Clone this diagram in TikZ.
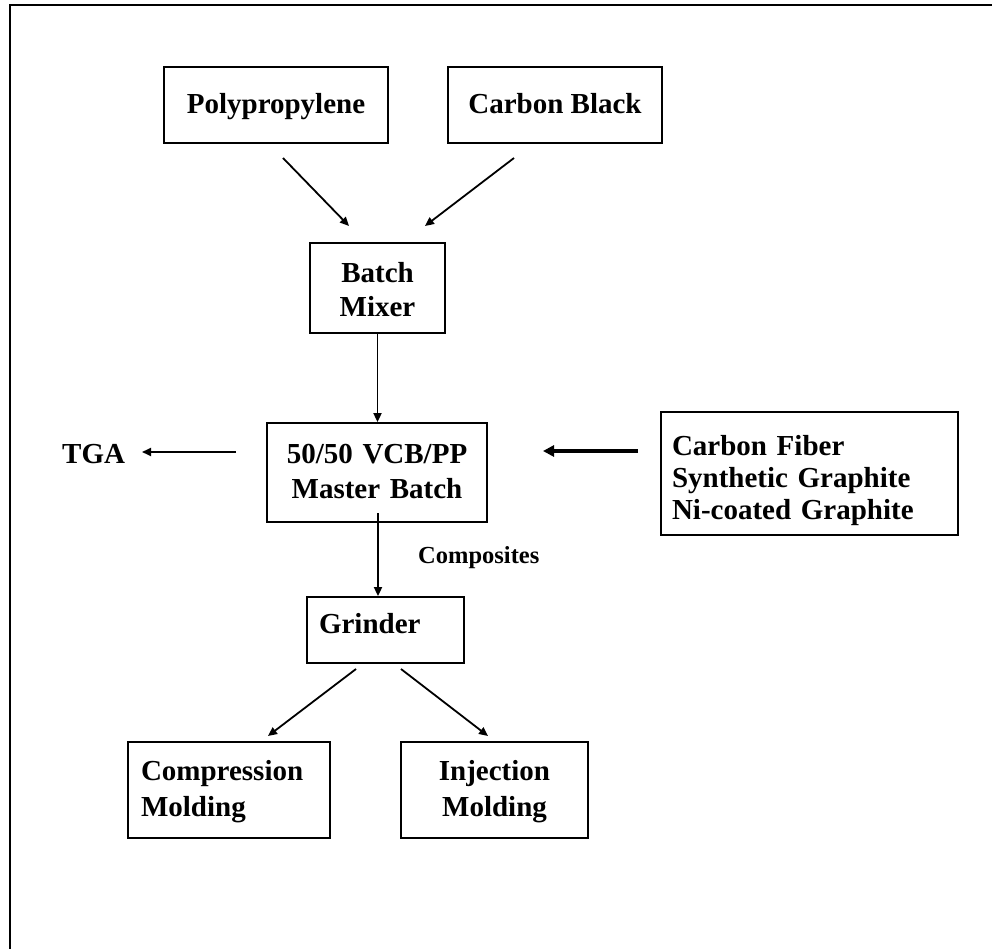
\documentclass[tikz,border=0pt]{standalone}
\usepackage{fontspec}
\setmainfont{Liberation Serif}
\usetikzlibrary{arrows.meta}
\begin{document}
\begin{tikzpicture}[x=1pt,y=1pt,
  box/.style={draw, line width=1.8pt, inner sep=0pt, font=\fontsize{29}{34}\selectfont\bfseries},
  lbl/.style={inner sep=0pt, font=\fontsize{29}{34}\selectfont\bfseries},
  arr/.style={line width=1.8pt, -{Triangle[length=9pt,width=8pt]}},
  thickarr/.style={line width=3.6pt, -{Triangle[length=11pt,width=11pt]}}
]
\useasboundingbox (0,0) rectangle (992,-949);
\draw[line width=2pt] (10,-949) -- (10,-5) -- (992,-5);

\node[box, minimum width=224, minimum height=76, text height=18pt, text depth=0pt] (pp) at (276,-105) {Polypropylene};
\node[box, minimum width=214, minimum height=76, text height=17pt, text depth=0pt] (cb) at (555,-105) {Carbon Black};
\node[box, align=center, text width=135pt, minimum height=90, text height=0pt, text depth=10pt] (bm) at (377.5,-288) {Batch\\Mixer};
\node[box, align=center, text width=220pt, minimum height=99, text height=0pt, text depth=19pt, font=\fontsize{29}{35}\selectfont\bfseries] (mb) at (377,-472.5) {50/50 VCB/PP\\Master Batch};
\node[box, font=\fontsize{29}{32}\selectfont\bfseries, align=left, inner xsep=11pt, text width=275pt, minimum height=123, text height=0pt, text depth=37pt] (cf) at (809.5,-473.5) {Carbon Fiber\\Synthetic Graphite\\Ni-coated Graphite};
\node[lbl, anchor=base west] (tga) at (62,-463) {TGA};
\node[box, align=left, inner xsep=12pt, text width=133pt, minimum height=66, text height=6pt, text depth=0pt] (gr) at (385.5,-630) {Grinder};
\node[lbl, anchor=base west, font=\fontsize{24.5}{28}\selectfont\bfseries] (comp) at (418,-563) {Composites};
\node[box, align=left, inner xsep=13pt, text width=176pt, minimum height=96, text height=0pt, text depth=20pt, font=\fontsize{29}{36}\selectfont\bfseries] (cm) at (229,-790) {Compression\\Molding};
\node[box, align=center, text width=187pt, minimum height=96, text height=0pt, text depth=20pt, font=\fontsize{29}{36}\selectfont\bfseries] (im) at (494.5,-790) {Injection\\Molding};

% free ends
\coordinate (ppA) at (283,-158);
\coordinate (ppB) at (349,-226);
\coordinate (cbA) at (514,-158);
\coordinate (cbB) at (425,-226);
\coordinate (tgaA) at (236,-452);
\coordinate (tgaB) at (142,-452);
\coordinate (cfA) at (638,-451);
\coordinate (cfB) at (543,-451);
\coordinate (mbA) at (378,-513);
\coordinate (grL) at (356,-669);
\coordinate (grR) at (401,-669);
\coordinate (cmT) at (268,-736);
\coordinate (imT) at (488,-736);

\draw[arr] (ppA) -- (ppB);
\draw[arr] (cbA) -- (cbB);
\draw[arr] (bm.south) -- (bm.south |- mb.north);
\draw[arr] (tgaA) -- (tgaB);
\draw[thickarr] (cfA) -- (cfB);
\draw[arr] (mbA) -- (mbA |- gr.north);
\draw[arr] (grL) -- (cmT);
\draw[arr] (grR) -- (imT);
\end{tikzpicture}
\end{document}
